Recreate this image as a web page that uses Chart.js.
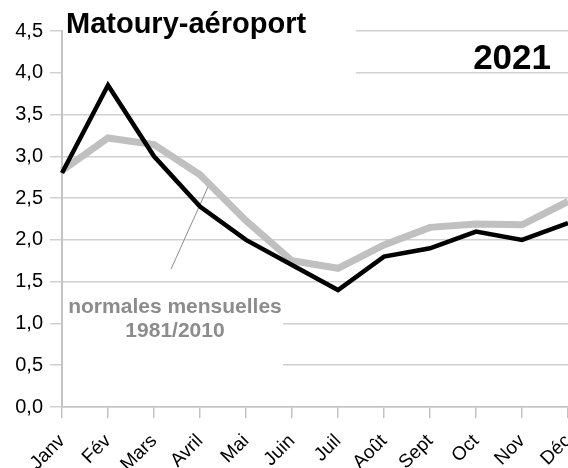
<!DOCTYPE html>
<html>
<head>
<meta charset="utf-8">
<script src="https://cdn.jsdelivr.net/npm/chart.js@4/dist/chart.umd.min.js"></script>
<style>
  html, body { margin: 0; padding: 0; background: #fff; }
  #wrap { width: 568px; height: 468px; }
</style>
</head>
<body>
<div id="wrap"><canvas id="myChart" width="568" height="468"></canvas></div>
<script>
// data
const months = ['Janv', 'Fév', 'Mars', 'Avril', 'Mai', 'Juin', 'Juil', 'Août', 'Sept', 'Oct', 'Nov', 'Déc'];
const obs2021 = [2.8, 3.85, 3.0, 2.4, 2.0, 1.7, 1.4, 1.8, 1.9, 2.1, 2.0, 2.2];
const normales = [2.83, 3.22, 3.14, 2.78, 2.23, 1.75, 1.66, 1.94, 2.15, 2.19, 2.18, 2.46];
const yMin = 0;
const yMax = 4.5;
const yStep = 0.5;

const chartTitle = 'Matoury-aéroport';
const yearLabel = '2021';
const noteLines = ['normales mensuelles', '1981/2010'];

const FONT = '"Liberation Sans", Arial, sans-serif';

// white boxes behind the texts, the leader line, and the texts
const decorPlugin = {
  id: 'decor',
  beforeDatasetsDraw(chart) {
    const { ctx, chartArea, scales } = chart;
    const x = scales.x, y = scales.y;
    ctx.save();
    ctx.fillStyle = '#fff';
    // box behind the title (hides grid at 4,5 and 4,0)
    ctx.fillRect(chartArea.left + 1, 18, 356 - chartArea.left - 1, 62);
    // box behind the note (hides grid at 1,0 and 0,5)
    ctx.fillRect(chartArea.left + 1, 290, 283 - chartArea.left - 1, 82);
    // leader line to the normals curve
    ctx.strokeStyle = '#8c8c8c';
    ctx.lineWidth = 1;
    ctx.beginPath();
    ctx.moveTo(x.getPixelForValue(2.37), y.getPixelForValue(1.65));
    ctx.lineTo(x.getPixelForValue(3.22), y.getPixelForValue(2.69));
    ctx.stroke();
    ctx.restore();
  },
  afterDraw(chart) {
    const { ctx } = chart;
    ctx.save();
    ctx.fillStyle = '#000';
    ctx.textBaseline = 'alphabetic';
    ctx.font = 'bold 29px ' + FONT;
    ctx.textAlign = 'left';
    ctx.fillText(chartTitle, 66, 33);
    ctx.font = 'bold 35px ' + FONT;
    ctx.textAlign = 'right';
    ctx.fillText(yearLabel, 551, 69);
    ctx.fillStyle = '#8c8c8c';
    ctx.font = 'bold 21px ' + FONT;
    ctx.textAlign = 'center';
    ctx.fillText(noteLines[0], 175, 313);
    ctx.fillText(noteLines[1], 175, 337);
    ctx.restore();
  }
};

const ctx = document.getElementById('myChart').getContext('2d');
new Chart(ctx, {
  type: 'line',
  data: {
    labels: months,
    datasets: [
      {
        label: yearLabel,
        data: obs2021,
        borderColor: '#000',
        borderWidth: 4.5,
        borderJoinStyle: 'miter',
        pointRadius: 0,
        tension: 0,
        fill: false
      },
      {
        label: noteLines.join(' '),
        data: normales,
        borderColor: '#c0c0c0',
        borderWidth: 7,
        borderJoinStyle: 'miter',
        pointRadius: 0,
        tension: 0,
        fill: false
      }
    ]
  },
  options: {
    responsive: false,
    animation: false,
    layout: { padding: { top: 31, left: 0, right: 0, bottom: 0 } },
    plugins: {
      legend: { display: false },
      tooltip: { enabled: false }
    },
    scales: {
      x: {
        offset: false,
        grid: { drawOnChartArea: false, color: '#c4c4c4', tickLength: 11, lineWidth: 1.5 },
        border: { color: '#c4c4c4', width: 1.5 },
        ticks: {
          color: '#000',
          font: { family: FONT, size: 19 },
          minRotation: 45,
          maxRotation: 45,
          padding: 12,
          autoSkip: false
        },
        afterFit(scale) {
          scale.height = 61;
          scale.paddingLeft = 0;
          scale.paddingRight = 0;
        }
      },
      y: {
        min: yMin,
        max: yMax,
        ticks: {
          stepSize: yStep,
          color: '#000',
          font: { family: FONT, size: 20 },
          padding: 7,
          callback: v => v.toFixed(1).replace('.', ',')
        },
        grid: { color: '#d0d0d0', tickLength: 12, lineWidth: 1.5 },
        border: { color: '#c4c4c4', width: 2 },
        afterFit(scale) {
          scale.width = 62;
        }
      }
    }
  },
  plugins: [decorPlugin]
});
</script>
</body>
</html>
